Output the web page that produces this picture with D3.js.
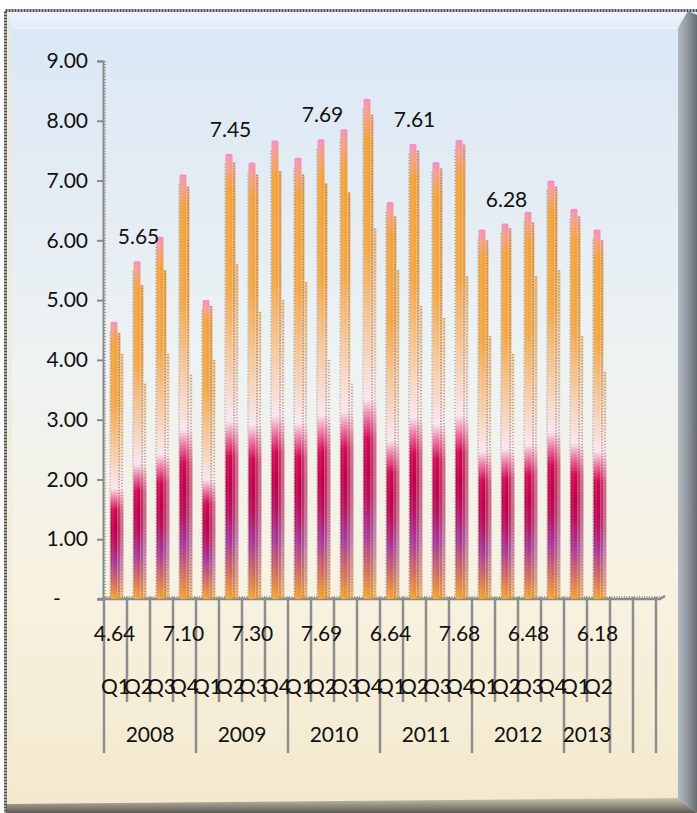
<!DOCTYPE html>
<html>
<head>
<meta charset="utf-8">
<script src="https://cdn.jsdelivr.net/npm/d3@7/dist/d3.min.js"></script>
<style>
  html, body { margin: 0; padding: 0; background: #ffffff; }
  svg { display: block; }
  text { font-family: Lato, "Open Sans", sans-serif; fill: #111; }
</style>
</head>
<body>
<div id="chart"></div>
<script>
// ---------- data ----------
const years = ["2008", "2009", "2010", "2011", "2012", "2013"];
const quartersPerYear = [4, 4, 4, 4, 4, 2];
const blankSlots = 2;
const quarterLabels = ["Q1","Q2","Q3","Q4","Q1","Q2","Q3","Q4","Q1","Q2","Q3","Q4",
                       "Q1","Q2","Q3","Q4","Q1","Q2","Q3","Q4","Q1","Q2"];
const values = [4.64, 5.65, 6.06, 7.10, 5.00, 7.45, 7.30, 7.67, 7.38, 7.69, 7.86, 8.37,
                6.64, 7.61, 7.31, 7.68, 6.18, 6.28, 6.48, 7.00, 6.53, 6.18];
// secondary "depth" columns (dotted)
const sideA = [4.45, 5.25, 5.50, 6.90, 4.90, 7.30, 7.10, 7.15, 7.10, 6.95, 6.80, 8.10,
               6.40, 7.50, 7.20, 7.60, 6.00, 6.20, 6.30, 6.90, 6.40, 6.00];
const sideB = [4.10, 3.60, 4.10, 3.75, 4.00, 5.60, 4.80, 5.00, 5.30, 4.00, 3.60, 6.20,
               5.50, 4.90, 4.70, 5.40, 4.40, 4.10, 5.40, 5.50, 4.40, 3.80];
const valueRowIdx = [0, 3, 6, 9, 12, 15, 18, 21];   // first-level category labels shown
const dataLabelIdx = [1, 5, 9, 13, 17];              // data labels shown above bars
const yTicks = [0, 1, 2, 3, 4, 5, 6, 7, 8, 9];

// ---------- setup ----------
const W = 697, H = 813;
const svg = d3.select("#chart").append("svg").attr("width", W).attr("height", H);
const defs = svg.append("defs");

function linGrad(id, stops, attrs) {
  const g = defs.append("linearGradient").attr("id", id);
  Object.entries(attrs).forEach(([k, v]) => g.attr(k, v));
  stops.forEach(([o, c, op]) => g.append("stop").attr("offset", o).attr("stop-color", c)
    .attr("stop-opacity", op === undefined ? 1 : op));
  return g;
}

// background panel
linGrad("bg", [[0, "#d9e7f6"], [0.45, "#eef2f2"], [0.7, "#f7f2e2"], [1, "#f3e9cc"]],
  { x1: 0, y1: 0, x2: 0, y2: 1 });
linGrad("bevTop", [[0, "#f4f8fd"], [1, "#e3edf8"]], { x1: 0, y1: 0, x2: 0, y2: 1 });
linGrad("bevRight", [[0, "#aeb6bf"], [0.5, "#8d949c"], [1, "#5f656b"]], { x1: 0, y1: 0, x2: 1, y2: 0 });
linGrad("bevBottom", [[0, "#c9c2ad"], [0.5, "#8e8a7c"], [1, "#56544e"]], { x1: 0, y1: 0, x2: 0, y2: 1 });
linGrad("bevLeft", [[0, "#f2ecd9"], [1, "#efe7cf"]], { x1: 0, y1: 0, x2: 1, y2: 0 });

const px0 = 6, py0 = 11, px1 = 697, py1 = 813;
svg.append("rect").attr("x", px0).attr("y", py0).attr("width", px1 - px0).attr("height", py1 - py0)
  .attr("fill", "url(#bg)");
// bevels
const bt = 17, br = 10, bb = 10, bl = 6;
svg.append("polygon").attr("fill", "url(#bevTop)").attr("opacity", 0.8)
  .attr("points", [[px0, py0], [px1 - 9, py0], [px1 - 9 - br, py0 + bt], [px0 + bl, py0 + bt]].join(" "));
svg.append("polygon").attr("fill", "url(#bevLeft)").attr("opacity", 0.6)
  .attr("points", [[px0, py0], [px0 + bl, py0 + bt], [px0 + bl, py1 - 9 - bb], [px0, py1 - 9]].join(" "));
svg.append("polygon").attr("fill", "url(#bevRight)")
  .attr("points", [[px1 - 9, py0], [px1, py0 + 4], [px1, py1], [px1 - 9 - br, py1 - 9 - bb + 4], [px1 - 9 - br, py0 + bt]].join(" "))
  .attr("opacity", 0.95);
svg.append("polygon").attr("fill", "url(#bevBottom)")
  .attr("points", [[px0, py1 - 9], [px1 - 9 - br, py1 - 9 - bb + 4], [px1, py1], [px0, py1]].join(" "))
  .attr("opacity", 0.95);
svg.append("path").attr("fill", "none").attr("stroke", "#ffffff").attr("stroke-opacity", 0.6)
  .attr("d", `M${px0 + bl},${py0 + bt} L${px1 - 9 - br},${py0 + bt}`);
// dotted outer border
svg.append("rect").attr("x", 5.5).attr("y", 10.5).attr("width", 720).attr("height", 840)
  .attr("fill", "none").attr("stroke", "#4d4d4d").attr("stroke-width", 3)
  .attr("stroke-dasharray", "2,1");

// ---------- scales ----------
const nSlots = quarterLabels.length + blankSlots;
const x = d3.scaleBand().domain(d3.range(nSlots)).range([104, 656]).padding(0);
const y = d3.scaleLinear().domain([0, 9]).range([599, 61]);
const bw = x.bandwidth();

// per-bar gradients (absolute, so strips share colour bands)
const stops = [[0, "#f58fc2"], [0.03, "#f4a088"], [0.08, "#f2a23c"], [0.3, "#f3a746"],
  [0.48, "#f6cdaa"], [0.6, "#f9e6ef"], [0.64, "#ec6e9c"], [0.68, "#d00a55"], [0.74, "#c2004c"],
  [0.8, "#b8105e"], [0.87, "#a8389a"], [0.94, "#d26c62"], [1, "#f2a530"]];
values.forEach((v, i) => {
  linGrad("bar" + i, stops, { gradientUnits: "userSpaceOnUse", x1: 0, x2: 0, y1: y(v), y2: y(0) });
});

// ---------- y axis ----------
const yAxisG = svg.append("g").attr("transform", "translate(103,0)")
  .call(d3.axisLeft(y).tickValues(yTicks).tickSize(6)
    .tickFormat(d => d === 0 ? "" : d3.format(".2f")(d)));
yAxisG.select(".domain").attr("stroke", "#8a8a8a").attr("stroke-width", 2);
yAxisG.selectAll(".tick line").attr("stroke", "#8a8a8a").attr("stroke-width", 2);
yAxisG.selectAll(".tick text").attr("x", -15).style("font-size", "21px")
  .style("font-family", "Lato, sans-serif").attr("fill", "#111");
svg.append("text").attr("x", 57).attr("y", y(0)).attr("dy", "0.35em")
  .attr("text-anchor", "middle").style("font-size", "21px").text("-");
// minor ticks (serrated look)
const minorG = svg.append("g").attr("transform", "translate(104,0)")
  .call(d3.axisRight(y).tickValues(d3.range(0, 9.0001, 0.05)).tickSize(2).tickFormat(""));
minorG.select(".domain").remove();
minorG.selectAll(".tick line").attr("stroke", "#9a9a9a").attr("stroke-width", 1);

// ---------- category axis ----------
const axisY = y(0);
svg.append("path").attr("fill", "none").attr("stroke", "#8a8a8a").attr("stroke-width", 2.5)
  .attr("d", `M98,${axisY} L660,${axisY} L665,${axisY - 3}`);
svg.append("path").attr("fill", "none").attr("stroke", "#9a9a9a").attr("stroke-width", 2)
  .attr("stroke-dasharray", "1,1.5").attr("d", `M104,${axisY - 2} L662,${axisY - 2}`);

const groupSizes = quartersPerYear.concat(d3.range(blankSlots).map(() => 1));
const boundaries = [0];
groupSizes.forEach(s => boundaries.push(boundaries[boundaries.length - 1] + s));
const boundarySet = new Set(boundaries);
d3.range(nSlots + 1).forEach(i => {
  const xx = i < nSlots ? x(i) : x(nSlots - 1) + bw;
  svg.append("line").attr("x1", xx).attr("x2", xx).attr("y1", axisY - 2)
    .attr("y2", boundarySet.has(i) ? 753 : 702)
    .attr("stroke", "#8d8d8d").attr("stroke-width", 2.5);
});

// ---------- bars ----------
const barOff = 6.5, barW = 7;
const barsG = svg.append("g");
values.forEach((v, i) => {
  const bx = x(i) + barOff;
  barsG.append("rect").attr("x", bx + barW + 3).attr("y", y(sideB[i])).attr("width", 3)
    .attr("height", y(0) - y(sideB[i])).attr("fill", `url(#bar${i})`).attr("opacity", 0.55);
  barsG.append("line").attr("x1", bx + barW + 4.5).attr("x2", bx + barW + 4.5)
    .attr("y1", y(sideB[i])).attr("y2", y(0)).attr("stroke", "#7c6a60")
    .attr("stroke-width", 1.2).attr("stroke-dasharray", "1.2,1.8").attr("opacity", 0.7);
  barsG.append("rect").attr("x", bx + barW).attr("y", y(sideA[i])).attr("width", 3)
    .attr("height", y(0) - y(sideA[i])).attr("fill", `url(#bar${i})`).attr("opacity", 0.85);
  barsG.append("line").attr("x1", bx + barW + 1.5).attr("x2", bx + barW + 1.5)
    .attr("y1", y(sideA[i])).attr("y2", y(0)).attr("stroke", "#8a6a5a")
    .attr("stroke-width", 1.3).attr("stroke-dasharray", "1.3,1.5").attr("opacity", 0.75);
  barsG.append("rect").attr("x", bx).attr("y", y(v)).attr("width", barW)
    .attr("height", y(0) - y(v)).attr("rx", 1.5).attr("fill", `url(#bar${i})`);
  barsG.append("line").attr("x1", bx - 0.5).attr("x2", bx - 0.5)
    .attr("y1", y(v) + 10).attr("y2", y(0)).attr("stroke", "#6e5a58")
    .attr("stroke-width", 1.2).attr("stroke-dasharray", "1.2,1.8").attr("opacity", 0.55);
  barsG.append("line").attr("x1", bx + 2.5).attr("x2", bx + 2.5)
    .attr("y1", y(v) + 3).attr("y2", y(0)).attr("stroke", "#ffffff")
    .attr("stroke-width", 1).attr("opacity", 0.15);
});

// ---------- labels ----------
const fs = "21px";
dataLabelIdx.forEach(i => {
  svg.append("text").attr("x", x(i) + bw / 2).attr("y", y(values[i]) - 17)
    .attr("text-anchor", "middle").style("font-size", fs).text(d3.format(".2f")(values[i]));
});
valueRowIdx.forEach(i => {
  svg.append("text").attr("x", x(i) + bw / 2 - 1).attr("y", 634).attr("dy", "0.35em")
    .attr("text-anchor", "middle").style("font-size", fs).text(d3.format(".2f")(values[i]));
});
quarterLabels.forEach((q, i) => {
  svg.append("text").attr("x", x(i) + bw / 2).attr("y", 687).attr("dy", "0.35em")
    .attr("text-anchor", "middle").style("font-size", fs).text(q);
});
years.forEach((yr, k) => {
  const a = x(boundaries[k]), b = x(boundaries[k + 1] - 1) + bw;
  svg.append("text").attr("x", (a + b) / 2).attr("y", 735).attr("dy", "0.35em")
    .attr("text-anchor", "middle").style("font-size", fs).text(yr);
});
</script>
</body>
</html>
